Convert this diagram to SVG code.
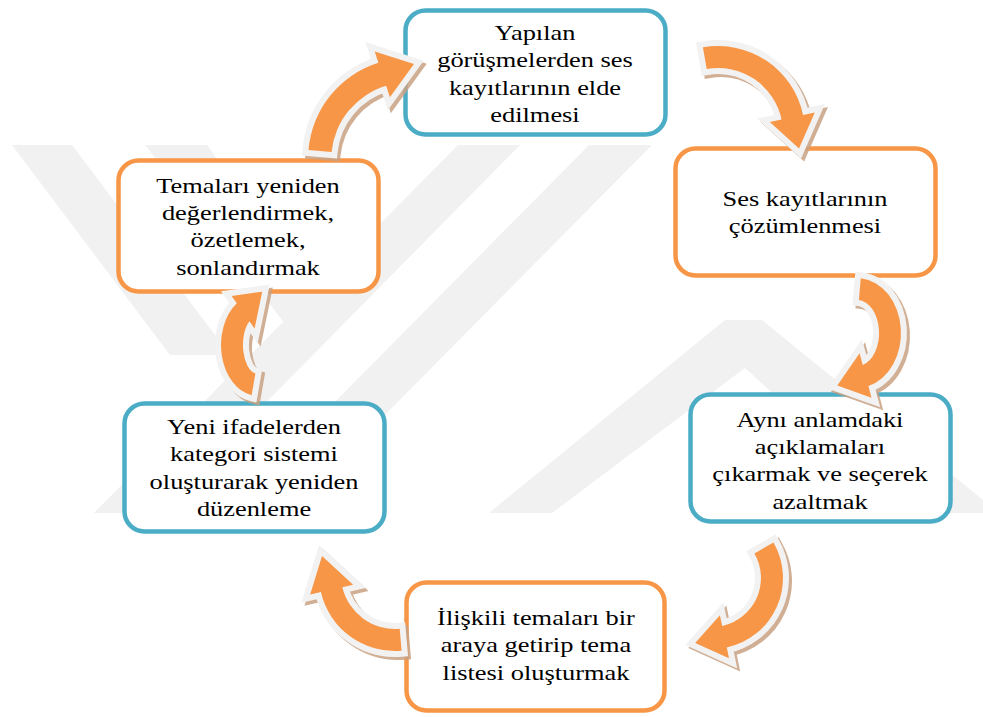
<svg xmlns="http://www.w3.org/2000/svg" xmlns:xlink="http://www.w3.org/1999/xlink" width="983" height="717" viewBox="0 0 983 717">
<style>
.wm { fill:#F1F1F1; }
.box { fill:#FFFFFF; stroke-width:4.5; }
.blue { stroke:#4BACC6; }
.orange { stroke:#F79646; }
text { font-family:'Liberation Serif', 'Times New Roman', serif; font-size:22px; fill:#000000; text-anchor:middle; }
.sh { fill:#C9A283; stroke:#C9A283; stroke-width:12; stroke-linejoin:miter; stroke-miterlimit:4; opacity:0.85; }
.ol { fill:#F2F2F2; stroke:#F2F2F2; stroke-width:12; stroke-linejoin:miter; stroke-miterlimit:4; }
.ar { fill:#F79646; }
</style>
<defs>
<path id="p1" d="M308.5,150 A100,100 0 0 1 378.4,62.8 L374.7,51.4 L414,64 L389.9,97.2 L386.2,85.8 A77,77 0 0 0 331.6,152 Z"/>
<path id="p2" d="M702.9,47.3 A87,87 0 0 1 803.1,114.9 L814.8,112.4 L799,148.5 L769.8,122 L781.6,119.5 A65,65 0 0 0 706.7,69 Z"/>
<path id="p3" d="M860.8,278.2 A44,55 0 0 1 868.4,386.1 L871.5,397.7 L837.3,385.6 L859.6,353.3 L862.7,364.9 A22,33 0 0 0 858.9,300.1 Z"/>
<path id="p4" d="M773.5,542.5 A71,71 0 0 1 726.8,647.4 L729,658.2 L695.2,642.9 L719.9,615.2 L722.2,625.9 A49,49 0 0 0 754.4,553.5 Z"/>
<path id="p5" d="M401.6,650.7 A76,76 0 0 1 320.9,592.1 L310.2,594.6 L322,556 L353.1,584.7 L342.4,587.2 A54,54 0 0 0 399.7,628.8 Z"/>
<path id="p6" d="M251.6,395.2 A37,51 0 0 1 236.8,303.2 L231.6,295.9 L262.2,291.7 L254.6,328.6 L249.4,321.2 A15,29 0 0 0 255.4,373.6 Z"/>
</defs>
<rect x="0" y="0" width="983" height="717" fill="#FFFFFF"/>
<g id="watermark">
<polygon class="wm" points="12,145 72,145 230,355 170,355"/>
<polygon class="wm" points="145,145 207,145 320,300 290,330"/>
<polygon class="wm" points="94,513 157,513 520,145 458,145"/>
<polygon class="wm" points="225,513 288,513 652,145 589,145"/>
<polygon class="wm" points="489,513 552,513 745,368 905,513 983,513 983,500 762,320 725,320"/>
</g>
<g id="node-top">
<rect class="box blue" x="405.5" y="10.5" width="260" height="124" rx="20"/>
<g transform="translate(535,0) scale(1.2,1)" font-family="Liberation Serif, serif">
<text x="0" y="40">Yapılan</text>
<text x="0" y="67.5">görüşmelerden ses</text>
<text x="0" y="95">kayıtlarının elde</text>
<text x="0" y="122">edilmesi</text>
</g>
</g>
<g id="node-right-upper">
<rect class="box orange" x="675.5" y="148.5" width="260" height="127" rx="20"/>
<g transform="translate(805,0) scale(1.2,1)" font-family="Liberation Serif, serif">
<text x="0" y="206">Ses kayıtlarının</text>
<text x="0" y="233">çözümlenmesi</text>
</g>
</g>
<g id="node-right-lower">
<rect class="box blue" x="690.5" y="394.5" width="260" height="127" rx="20"/>
<g transform="translate(820,0) scale(1.2,1)" font-family="Liberation Serif, serif">
<text x="0" y="427">Aynı anlamdaki</text>
<text x="0" y="454">açıklamaları</text>
<text x="0" y="481.5">çıkarmak ve seçerek</text>
<text x="0" y="509">azaltmak</text>
</g>
</g>
<g id="node-bottom">
<rect class="box orange" x="406.5" y="582.5" width="258" height="128" rx="20"/>
<g transform="translate(536,0) scale(1.2,1)" font-family="Liberation Serif, serif">
<text x="0" y="625">İlişkili temaları bir</text>
<text x="0" y="652.5">araya getirip tema</text>
<text x="0" y="680">listesi oluşturmak</text>
</g>
</g>
<g id="node-left-lower">
<rect class="box blue" x="124.5" y="403.5" width="260" height="128" rx="20"/>
<g transform="translate(254,0) scale(1.2,1)" font-family="Liberation Serif, serif">
<text x="0" y="434">Yeni ifadelerden</text>
<text x="0" y="461.5">kategori sistemi</text>
<text x="0" y="489">oluşturarak yeniden</text>
<text x="0" y="516.5">düzenleme</text>
</g>
</g>
<g id="node-left-upper">
<rect class="box orange" x="118.5" y="160.5" width="260" height="131" rx="20"/>
<g transform="translate(248,0) scale(1.2,1)" font-family="Liberation Serif, serif">
<text x="0" y="193">Temaları yeniden</text>
<text x="0" y="220">değerlendirmek,</text>
<text x="0" y="247.5">özetlemek,</text>
<text x="0" y="275">sonlandırmak</text>
</g>
</g>
<g id="connectors">
<g id="arrow1"><use xlink:href="#p1" class="sh" transform="translate(3,3)"/><use xlink:href="#p1" class="ol"/><use xlink:href="#p1" class="ar"/></g>
<g id="arrow2"><use xlink:href="#p2" class="sh" transform="translate(3,3)"/><use xlink:href="#p2" class="ol"/><use xlink:href="#p2" class="ar"/></g>
<g id="arrow3"><use xlink:href="#p3" class="sh" transform="translate(3,3)"/><use xlink:href="#p3" class="ol"/><use xlink:href="#p3" class="ar"/></g>
<g id="arrow4"><use xlink:href="#p4" class="sh" transform="translate(3,3)"/><use xlink:href="#p4" class="ol"/><use xlink:href="#p4" class="ar"/></g>
<g id="arrow5"><use xlink:href="#p5" class="sh" transform="translate(3,3)"/><use xlink:href="#p5" class="ol"/><use xlink:href="#p5" class="ar"/></g>
<g id="arrow6"><use xlink:href="#p6" class="sh" transform="translate(3,3)"/><use xlink:href="#p6" class="ol"/><use xlink:href="#p6" class="ar"/></g>
</g>
</svg>
